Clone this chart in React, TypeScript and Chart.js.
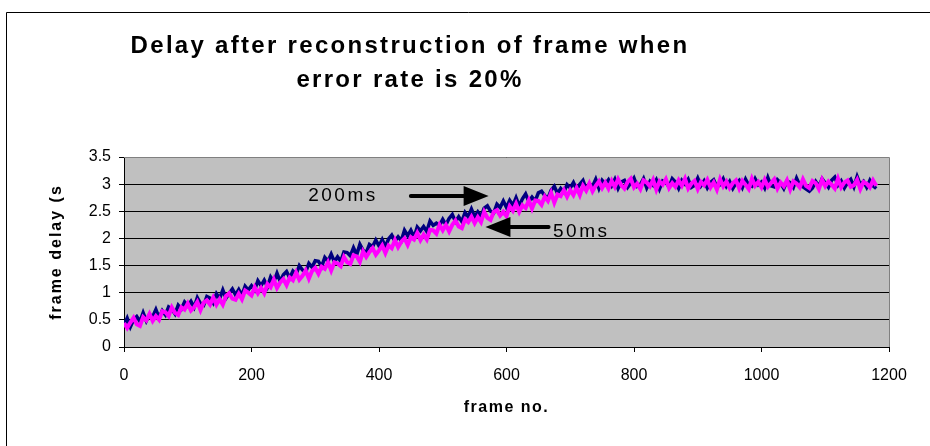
import { useEffect, useRef } from "react";
import { Chart, registerables } from "chart.js";

Chart.register(...registerables);

// Frames are sampled every FRAME_STEP frames, starting at frame 0.
const FRAME_STEP = 5;

// Delay (s) per frame with a 50 ms reconstruction interval.
const delay50ms = [
  0.44, 0.35, 0.45, 0.54, 0.42, 0.39, 0.55, 0.49, 0.61, 0.48, 0.57, 0.50, 0.66, 0.64, 0.57, 0.73, 0.63, 0.59, 0.73, 0.69, 0.80,
  0.67, 0.73, 0.83, 0.68, 0.82, 0.86, 0.78, 0.91, 0.78, 0.88, 0.78, 0.94, 0.99, 0.89, 0.87, 0.98, 0.88, 1.04, 1.00, 0.95,
  1.10, 0.99, 1.09, 0.99, 1.16, 1.10, 1.24, 1.09, 1.19, 1.25, 1.14, 1.28, 1.23, 1.37, 1.24, 1.31, 1.41, 1.26, 1.40, 1.46,
  1.35, 1.48, 1.44, 1.56, 1.41, 1.56, 1.54, 1.49, 1.66, 1.56, 1.53, 1.69, 1.67, 1.57, 1.76, 1.66, 1.75, 1.82, 1.70, 1.78,
  1.87, 1.73, 1.87, 1.82, 1.97, 1.84, 1.94, 2.00, 1.88, 2.02, 1.98, 2.10, 1.97, 2.07, 1.98, 2.16, 2.15, 2.09, 2.25, 2.15,
  2.25, 2.13, 2.25, 2.33, 2.22, 2.19, 2.35, 2.30, 2.40, 2.28, 2.39, 2.30, 2.49, 2.38, 2.34, 2.49, 2.52, 2.42, 2.49, 2.41,
  2.59, 2.51, 2.64, 2.49, 2.61, 2.56, 2.70, 2.55, 2.70, 2.69, 2.62, 2.77, 2.69, 2.84, 2.66, 2.81, 2.78, 2.89, 2.77, 2.89,
  2.80, 2.93, 2.80, 2.97, 2.88, 3.01, 2.87, 2.97, 3.05, 2.93, 3.03, 2.92,
  3.06, 2.95, 3.09, 2.98, 2.92, 3.04, 3.10, 2.94, 3.01, 2.91, 3.07, 3.03, 2.96, 3.08, 2.90, 3.05, 2.99, 3.09, 2.93, 3.02,
  2.95, 3.07, 2.97, 3.10, 2.92, 3.01, 3.06, 2.91, 3.04, 2.98, 3.08, 2.94, 3.03, 2.90, 3.09, 2.96, 3.05, 2.93, 3.02, 3.07,
  2.92, 3.06, 2.99, 2.91, 3.10, 2.97, 3.04, 2.94, 3.08, 2.95, 3.02, 3.09, 2.92, 3.03, 2.96, 3.07, 2.90, 3.05, 3.01, 2.94,
  3.09, 2.97, 2.93, 3.06, 3.02, 2.91, 3.08, 2.96, 3.05, 2.99, 2.92, 3.10, 2.94, 3.03, 3.07, 2.95, 2.98, 3.08, 2.91, 3.04,
  3.01, 2.94, 3.07, 2.97,
];

// Delay (s) per frame with a 200 ms reconstruction interval.
const delay200ms = [
  0.40, 0.53, 0.37, 0.50, 0.56, 0.47, 0.63, 0.48, 0.60, 0.56, 0.69, 0.54, 0.67, 0.59, 0.74, 0.70, 0.61, 0.77, 0.70, 0.83, 0.76,
  0.84, 0.73, 0.91, 0.80, 0.77, 0.93, 0.90, 0.81, 0.98, 0.89, 1.05, 0.90, 0.99, 1.07, 0.96, 1.06, 0.95, 1.12, 1.05, 1.13,
  1.05, 1.22, 1.13, 1.23, 1.11, 1.29, 1.20, 1.36, 1.21, 1.33, 1.39, 1.27, 1.40, 1.34, 1.50, 1.42, 1.38, 1.54, 1.47, 1.59,
  1.58, 1.48, 1.65, 1.58, 1.71, 1.57, 1.66, 1.58, 1.75, 1.74, 1.68, 1.83, 1.70, 1.89, 1.78, 1.74, 1.89, 1.85, 1.97, 1.86,
  1.98, 1.85, 1.99, 2.06, 1.95, 2.03, 1.96, 2.15, 2.05, 2.15, 2.02, 2.21, 2.14, 2.22, 2.13, 2.32, 2.24, 2.28, 2.24, 2.35,
  2.25, 2.37, 2.44, 2.31, 2.40, 2.31, 2.48, 2.40, 2.54, 2.40, 2.49, 2.41, 2.56, 2.60, 2.50, 2.47, 2.63, 2.57, 2.69, 2.57,
  2.70, 2.61, 2.75, 2.60, 2.73, 2.82, 2.68, 2.76, 2.69, 2.84, 2.87, 2.79, 2.74, 2.89, 2.96, 2.83, 2.92, 2.85, 2.99, 2.93,
  3.03, 2.90, 3.00, 3.07, 2.91, 3.01, 2.96, 3.09, 2.92, 3.07, 3.00, 3.08,
  2.97, 3.09, 2.92, 3.04, 3.07, 2.94, 3.02, 3.11, 2.96, 2.99, 3.10, 2.93, 3.05, 2.98, 3.08, 2.91, 3.06, 3.03, 2.95, 3.10,
  3.04, 2.92, 3.07, 3.00, 3.09, 2.94, 2.98, 3.11, 2.97, 3.06, 2.93, 3.03, 3.08, 2.95, 2.99, 3.10, 2.96, 3.05, 2.92, 3.02,
  3.07, 2.94, 3.09, 2.98, 2.96, 3.10, 2.99, 3.04, 2.93, 3.12, 2.97, 2.95, 3.08, 3.02, 2.92, 3.06, 3.03, 2.94, 3.11, 2.98,
  2.95, 2.91, 2.87, 2.93, 3.05, 2.96, 3.10, 3.02, 2.94, 3.07, 3.13, 2.98, 3.06, 2.93, 3.03, 3.09, 2.95, 3.14, 2.99, 3.05,
  2.94, 3.07, 2.97, 2.92,
];

// Axis ranges and tick spacing.
const xRange = [0, 1200];
const xTickStep = 200;
const yRange = [0, 3.5];
const yTickStep = 0.5;

const titleLines = ["Delay after reconstruction of frame when", "error rate is 20%"];
const xAxisTitle = "frame no.";
const yAxisTitle = "frame delay (s";

// Arrow annotations, in data units.
const label200 = { text: "200ms", frame: 289, delay: 2.78 };
const arrow200 = { from: 450, to: 572, delay: 2.78 };
const label50 = { text: "50ms", frame: 673, delay: 2.12 };
const arrow50 = { from: 666, to: 567, delay: 2.21 };

const FONT = 'Arial, "Liberation Sans", sans-serif';

function toPoints(values: number[]) {
  return values.map((y, i) => ({ x: i * FRAME_STEP, y }));
}

function drawArrow(ctx: CanvasRenderingContext2D, x0: number, x1: number, y: number) {
  const dir = Math.sign(x1 - x0);
  const headLen = 25;
  const headHalf = 10;
  const baseX = x1 - dir * headLen;
  ctx.save();
  ctx.strokeStyle = "#000";
  ctx.fillStyle = "#000";
  ctx.lineWidth = 4;
  ctx.lineCap = "round";
  ctx.beginPath();
  ctx.moveTo(x0, y);
  ctx.lineTo(baseX, y);
  ctx.stroke();
  ctx.beginPath();
  ctx.moveTo(x1, y);
  ctx.lineTo(baseX, y - headHalf);
  ctx.lineTo(baseX, y + headHalf);
  ctx.closePath();
  ctx.fill();
  ctx.restore();
}

const decorPlugin = {
  id: "frameDecor",
  beforeDraw(chart: any) {
    const { ctx, chartArea, width, height } = chart;
    ctx.save();
    ctx.fillStyle = "#fff";
    ctx.fillRect(0, 0, width, height);
    ctx.fillStyle = "#c0c0c0";
    ctx.fillRect(chartArea.left, chartArea.top, chartArea.right - chartArea.left, chartArea.bottom - chartArea.top);
    // outer chart frame
    ctx.strokeStyle = "#000";
    ctx.lineWidth = 1;
    ctx.beginPath();
    ctx.moveTo(6.5, height + 2);
    ctx.lineTo(6.5, 12.5);
    ctx.lineTo(width + 2, 12.5);
    ctx.stroke();
    ctx.restore();
  },
  afterDraw(chart: any) {
    const { ctx, chartArea, scales } = chart;
    const xs = scales.x;
    const ys = scales.y;
    ctx.save();

    // plot area frame on the top and right
    ctx.strokeStyle = "#808080";
    ctx.lineWidth = 1;
    ctx.beginPath();
    ctx.moveTo(chartArea.left, Math.round(chartArea.top) + 0.5);
    ctx.lineTo(Math.round(chartArea.right) + 0.5, Math.round(chartArea.top) + 0.5);
    ctx.lineTo(Math.round(chartArea.right) + 0.5, chartArea.bottom);
    ctx.stroke();

    // chart title
    ctx.fillStyle = "#000";
    ctx.textAlign = "center";
    ctx.textBaseline = "middle";
    ctx.font = `bold 24px ${FONT}`;
    (ctx as any).letterSpacing = "2.3px";
    ctx.fillText(titleLines[0], 410, 46);
    ctx.fillText(titleLines[1], 410, 80);

    // axis titles
    ctx.font = `bold 16px ${FONT}`;
    (ctx as any).letterSpacing = "1.5px";
    ctx.fillText(xAxisTitle, (chartArea.left + chartArea.right) / 2, 408);
    ctx.save();
    ctx.translate(57, (chartArea.top + chartArea.bottom) / 2);
    ctx.rotate(-Math.PI / 2);
    (ctx as any).letterSpacing = "2px";
    ctx.fillText(yAxisTitle, 0, 0);
    ctx.restore();

    // series annotations
    ctx.font = `19px ${FONT}`;
    (ctx as any).letterSpacing = "2.5px";
    ctx.textAlign = "left";
    ctx.fillText(label200.text, xs.getPixelForValue(label200.frame), ys.getPixelForValue(label200.delay));
    ctx.fillText(label50.text, xs.getPixelForValue(label50.frame), ys.getPixelForValue(label50.delay));
    (ctx as any).letterSpacing = "0px";

    drawArrow(ctx, xs.getPixelForValue(arrow200.from), xs.getPixelForValue(arrow200.to), ys.getPixelForValue(arrow200.delay));
    drawArrow(ctx, xs.getPixelForValue(arrow50.from), xs.getPixelForValue(arrow50.to), ys.getPixelForValue(arrow50.delay));

    ctx.restore();
  },
};

export default function App() {
  const canvasRef = useRef<HTMLCanvasElement | null>(null);

  useEffect(() => {
    const canvas = canvasRef.current;
    if (!canvas) return;
    const chart = new Chart(canvas, {
      type: "line",
      data: {
        datasets: [
          {
            label: "50ms",
            data: toPoints(delay50ms),
            borderColor: "#ff00ff",
            backgroundColor: "#ff00ff",
            borderWidth: 4,
            pointRadius: 0,
            tension: 0,
            fill: false,
            order: 0,
          },
          {
            label: "200ms",
            data: toPoints(delay200ms),
            borderColor: "#000080",
            backgroundColor: "#000080",
            borderWidth: 3.5,
            pointRadius: 0,
            tension: 0,
            fill: false,
            order: 1,
          },
        ],
      },
      options: {
        animation: false,
        responsive: false,
        maintainAspectRatio: false,
        events: [],
        layout: { padding: { left: 0, top: 157, right: 41, bottom: 0 } },
        plugins: {
          legend: { display: false },
          title: { display: false },
          tooltip: { enabled: false },
        },
        scales: {
          x: {
            type: "linear",
            min: xRange[0],
            max: xRange[1],
            afterFit: (s: any) => {
              s.height = 99;
            },
            ticks: {
              stepSize: xTickStep,
              color: "#000",
              font: { family: FONT, size: 16 },
              padding: 14,
              maxRotation: 0,
              callback: (v: any) => String(v),
            },
            grid: {
              drawOnChartArea: false,
              drawTicks: true,
              tickLength: 5,
              color: "#000",
            },
            border: { color: "#000", width: 1 },
          },
          y: {
            min: yRange[0],
            max: yRange[1],
            afterFit: (s: any) => {
              s.width = 124;
            },
            ticks: {
              stepSize: yTickStep,
              color: "#000",
              font: { family: FONT, size: 16 },
              padding: 8,
              callback: (v: any) => String(v),
            },
            grid: {
              color: "#000",
              lineWidth: 1,
              drawTicks: true,
              tickLength: 5,
            },
            border: { color: "#000", width: 1 },
          },
        },
      },
      plugins: [decorPlugin],
    });
    return () => chart.destroy();
  }, []);

  return (
    <div style={{ position: "absolute", left: 0, top: 0, width: 930, height: 446, background: "#fff" }}>
      <canvas ref={canvasRef} width={930} height={446} style={{ display: "block" }} />
    </div>
  );
}
